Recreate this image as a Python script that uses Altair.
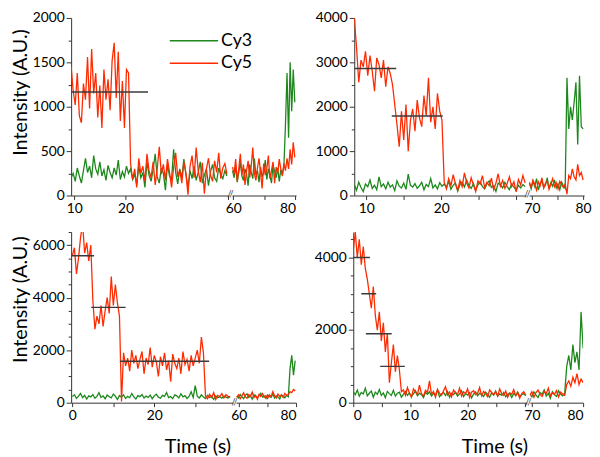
import altair as alt
import pandas as pd

FONT = "Lato"
GREEN = "#1c881c"
RED = "#ff2a00"
AXIS = "#333333"

# ---------------- data ----------------
# Panel 1 (top-left) -- left segment
p1a_start, p1a_step = 9.4, 0.4
p1a_cy3 = [200, 250, 160, 310, 220, 140, 280, 420, 260, 330, 200, 450, 300, 240, 380, 220, 290, 170, 340, 260,
           200, 310, 230, 400, 180, 270, 210, 330, 250,
           300, 180, 240, 120, 330, 200, 260, 90, 380, 230, 160, 290, 470, 210, 140, 310, 250, 60, 350, 220,
           180, 520, 260, 130, 300, 200, 410, 240, 90, 280, 190, 330, 170, 260, 380, 140, 230, 300, 110, 270,
           350, 200, 160, 310, 240, 190, 280, 220]
p1a_cy5 = [1450, 1180, 1020, 1380, 900, 820, 1260, 1080, 1560, 980, 1650, 1150, 1380, 880, 1240, 760, 1420, 1080,
           1310, 960, 1520, 1720, 1100, 1620, 840, 1290, 760, 1420, 1380,
           360, 180, 300, 90, 420, 250, 330, 160, 470, 280, 200, 380, 120, 300, 550, 240, 350, 170, 410, 260,
           90, 320, 480, 210, 290, 140, 380, 250, 10, 330, 450, 200, 540, 280, 150, 370, 20, 300, 420, 230,
           160, 390, 260, 480, 190, 310, 360, 240]
# Panel 1 -- right segment
p1b_start, p1b_step = 59.8, 0.5
p1b_cy3 = [280, 200, 330, 150, 260, 380, 220, 170, 300, 240, 110, 350, 260, 190, 420, 230, 280, 150, 320, 210,
           260, 400, 180, 300, 230, 140, 350, 270, 200, 310, 160, 290, 240, 330,
           800, 1380, 650, 1500, 950, 1420, 1050]
p1b_cy5 = [320, 240, 410, 160, 300, 470, 230, 350, 120, 280, 390, 200, 330, 540, 250, 170, 310, 420, 260, 80,
           360, 230, 300, 450, 190, 280, 380, 140, 320, 250, 410, 300, 220, 360, 280, 420, 300, 520, 350, 600, 430]
p1_lvl_from = [9.4]
p1_lvl_to = [24.4]
p1_lvl = [1165]

# Panel 2 (top-right)
p2a_start, p2a_step = 8.4, 0.3
p2a_cy3 = [250, 120, 300, 180, 90, 260, 200, 350, 160, 230, 130, 420, 200, 260, 150, 300, 190, 240, 110, 330,
           210, 170, 280, 140, 480, 230, 190, 270, 160, 220, 300, 130, 250, 200, 380, 170, 240, 150, 290, 210,
           260, 180, 320, 140, 230, 280, 100, 250, 300, 190, 350, 220, 160, 270, 120, 240, 310, 200, 150, 260,
           330, 180, 220, 90, 280, 240, 170, 300, 200, 130, 260, 190, 120, 230, 170, 250, 200]
p2a_cy5 = [4000, 3350, 2550, 3050, 2900, 3250, 2700, 3150, 2800, 2350, 3100, 2950, 2650, 3050, 2450, 2900, 2750,
           2500, 2050,
           1600, 1100, 1900, 1250, 2050, 1000, 1700, 1950, 1450, 2150, 1750, 1550, 2250, 1800, 2650, 1650, 2000,
           1500, 2300, 1900, 1700,
           300, 150, 380, 220, 470, 260, 120, 340, 200, 510, 280, 170, 400, 240, 90, 330, 260, 450, 180, 300,
           220, 390, 130, 280, 490, 210, 340, 160, 270, 420, 200, 310, 80, 360, 240, 450, 280]
p2b_start, p2b_step = 69.5, 0.35
p2b_cy3 = [280, 150, 320, 200, 380, 120, 260, 330, 180, 240, 400, 150, 290, 210, 350, 170, 260, 130, 300, 220, 160,
           2650, 1500, 2000, 1700, 2100, 2550, 1150, 2700, 1550, 1500]
p2b_cy5 = [300, 180, 350, 250, 120, 310, 220, 400, 170, 280, 330, 140, 260, 380, 200, 290, 150, 320, 240, 180, 260,
           30, 450, 380, 600, 420, 350, 700, 450, 520, 350]
p2_lvl_from = [8.4, 13.4]
p2_lvl_to = [14.0, 20.2]
p2_lvl = [2860, 1790]

# Panel 3 (bottom-left)
p3a_start, p3a_step = 0.0, 0.5
p3a_cy3 = [230, 300, 160, 250, 350, 190, 280, 140, 260, 220, 310, 170, 240, 380, 200, 260, 150, 290, 230, 180,
           330, 250, 120, 270, 210, 300, 160, 240, 190, 350, 220, 140, 270, 230, 310, 180, 250, 200, 290, 150,
           260, 320, 210, 170, 280, 240, 390, 190, 230, 150, 300, 260, 180, 340, 220, 270, 160, 240, 420, 200,
           650, 250, 180, 300, 220, 160, 280, 200, 240, 130, 260, 190, 230, 170, 250, 210, 180, 240]
p3a_cy5 = [5600, 5900, 4900, 5500, 6300, 6800, 5700, 6100, 5400, 6000,
           3900, 2800, 3300, 3000, 3700, 2900, 3500, 4000, 3400, 4800, 3700, 4500, 3800, 3300,
           50, 1900, 1400, 1700, 1200, 2000, 1500, 1800, 1300, 1650, 1950, 1100, 1700, 1450, 2100, 1350, 1800,
           1550, 1000, 1750, 1400, 1900, 1250, 1600, 800, 1850, 1500, 1300, 1700, 1100, 1950, 1450, 1650, 1200,
           1800, 1400, 1700, 2000, 1500, 2500, 1900,
           250, 150, 320, 200, 380, 120, 280, 230, 350, 180, 300, 240, 200]
p3b_start, p3b_step = 59.3, 0.6
p3b_cy3 = [250, 180, 310, 220, 150, 280, 340, 200, 260, 130, 300, 230, 190, 270, 360, 210, 250, 160, 290, 240,
           200, 330, 180, 260, 220, 140, 300, 250, 190, 280, 230,
           1300, 1800, 1050, 1600]
p3b_cy5 = [200, 300, 150, 260, 380, 220, 170, 310, 250, 400, 190, 280, 130, 320, 240, 350, 210, 270, 160, 300,
           230, 420, 260, 180, 330, 240, 290, 200, 350, 280, 310, 420, 380, 500, 450]
p3_lvl_from = [-0.3, 4.6, 11.6]
p3_lvl_to = [5.3, 13.0, 33.4]
p3_lvl = [5600, 3630, 1580]

# Panel 4 (bottom-right)
p4a_start, p4a_step = 0.0, 0.35
p4a_cy3 = [300, 220, 350, 180, 280, 240, 400, 190, 260, 320, 150, 290, 230, 360, 200, 270, 140, 310, 250, 200,
           340, 180, 260, 290, 150, 230, 310, 200, 270, 170, 240, 330, 190, 260, 220, 140, 280, 230, 300, 180,
           250, 210, 350, 160, 240, 280, 200, 310, 150, 260, 220, 290, 180, 240, 330, 170, 250, 210, 280, 130,
           240, 300, 190, 260, 220, 170, 290, 230, 150, 270, 210, 320, 180, 240, 200, 280, 160, 230, 260, 140,
           250, 200, 290, 170, 220, 250, 190]
p4a_cy5 = [4200, 4700, 4000, 4500, 3800, 4300, 3700, 3400, 3000, 2600, 3200, 2400, 2000, 2500, 1700, 2200, 1400,
           1900, 550, 1100, 1600, 850, 1300, 900, 300,
           350, 200, 420, 260, 150, 380, 300, 220, 480, 250, 180, 340, 280, 600, 230, 310, 150, 370, 260, 200,
           330, 440, 210, 290, 160, 350, 270, 230, 400, 180, 300, 250, 380, 140, 290, 330, 220, 260, 420, 190,
           310, 240, 160, 350, 280, 220, 300, 180, 380, 250, 200, 320, 150, 270, 230, 360, 190, 280, 120, 250,
           300, 210]
p4b_start, p4b_step = 69.6, 0.4
p4b_cy3 = [250, 160, 300, 210, 140, 280, 230, 350, 180, 260, 120, 300, 220, 170, 330, 240, 190, 260,
           1000, 1300, 900, 1600, 1100, 1400, 900, 2500, 1500]
p4b_cy5 = [200, 300, 150, 280, 350, 220, 170, 310, 250, 400, 190, 270, 230, 330, 160, 290, 240, 200,
           500, 600, 450, 700, 550, 800, 500, 650, 550]
p4_lvl_from = [0.0, 1.4, 2.2, 4.7]
p4_lvl_to = [2.9, 4.0, 6.7, 9.0]
p4_lvl = [4000, 3000, 1900, 1000]

# axis ticks / labels
p1_yticks = [0, 250, 500, 750, 1000, 1250, 1500, 1750, 2000]
p1_ylabels = [0, 500, 1000, 1500, 2000]
p2_yticks = [0, 500, 1000, 1500, 2000, 2500, 3000, 3500, 4000]
p2_ylabels = [0, 1000, 2000, 3000, 4000]
p3_yticks = [0, 500, 1000, 1500, 2000, 2500, 3000, 3500, 4000, 4500, 5000, 5500, 6000, 6500]
p3_ylabels = [0, 2000, 4000, 6000]
p4_yticks = [0, 500, 1000, 1500, 2000, 2500, 3000, 3500, 4000, 4500]
p4_ylabels = [0, 2000, 4000]

p1a_xticks, p1a_xlabels = [10, 20, 30, 40], [10, 20]
p1b_xticks, p1b_xlabels = [60, 70, 80], [60, 80]
p2a_xticks, p2a_xlabels = [10, 15, 20, 25, 30], [10, 20]
p2b_xticks, p2b_xlabels = [70, 75, 80], [70, 80]
p3a_xticks, p3a_xlabels = [0, 10, 20, 30], [0, 20]
p3b_xticks, p3b_xlabels = [60, 70, 80], [60, 80]
p4a_xticks, p4a_xlabels = [0, 5, 10, 15, 20, 25, 30], [0, 10, 20]
p4b_xticks, p4b_xlabels = [70, 75, 80], [70, 80]


# ---------------- helpers ----------------
def traces(start, step, cy3, cy5):
    rows = []
    for dye, vals in (("Cy3", cy3), ("Cy5", cy5)):
        for i, v in enumerate(vals):
            rows.append({"t": round(start + i * step, 4), "v": v, "dye": dye})
    return pd.DataFrame(rows)


def levels(t0, t1, lv):
    return pd.DataFrame({"t0": t0, "t1": t1, "lvl": lv})


color = alt.Color(
    "dye:N",
    scale=alt.Scale(domain=["Cy3", "Cy5"], range=[GREEN, RED]),
    legend=alt.Legend(
        title=None, orient="none", legendX=116, legendY=12,
        symbolType="M-2.7,0H2.2", symbolSize=400, symbolStrokeWidth=1.5,
        labelFont=FONT, labelFontSize=18, labelColor="#000",
        rowPadding=3, labelOffset=14, padding=0,
    ),
)


def x_axis(ticks, labels, title=None, title_x=None):
    kw = dict(
        values=ticks,
        labelExpr=f"indexof({labels}, datum.value) >= 0 ? datum.label : ''",
        format="d", grid=False, tickSize=4, labelPadding=2,
    )
    if title:
        kw.update(title=title, titleX=title_x, titleY=44, titleBaseline="middle", titleAlign="center")
    else:
        kw["title"] = None
    return alt.Axis(**kw)


def y_axis(ticks, labels, title=None, title_y=None):
    cond = f"indexof({labels}, datum.value) >= 0"
    kw = dict(
        values=ticks,
        labelExpr=f"{cond} ? datum.label : ''",
        format="d", grid=False,
        tickSize={"condition": {"test": cond, "value": 5}, "value": 3},
        labelPadding=2,
    )
    if title:
        kw.update(title=title, titlePadding=2, titleY=title_y)
    else:
        kw["title"] = None
    return alt.Axis(**kw)


def segment(df, xdom, w, h, ydom, xax, yax, lv=None, brk=False):
    xs = alt.Scale(domain=xdom, nice=False, zero=False)
    ys = alt.Scale(domain=ydom, nice=False, zero=False)
    line = alt.Chart(df).mark_line(strokeWidth=1.3, clip=True).encode(
        x=alt.X("t:Q", scale=xs, axis=xax),
        y=alt.Y("v:Q", scale=ys, axis=yax),
        color=color,
    )
    layers = [line]
    if lv is not None:
        layers.append(
            alt.Chart(lv).mark_rule(color="#3a3a3a", strokeWidth=1.5, clip=True).encode(
                x=alt.X("t0:Q", scale=xs, axis=xax),
                x2="t1:Q",
                y=alt.Y("lvl:Q", scale=ys, axis=yax),
            )
        )
    if brk:
        layers.append(
            alt.Chart(pd.DataFrame({"s": ["//"]})).mark_text(
                font=FONT, fontSize=9, color=AXIS, baseline="middle", align="center"
            ).encode(text="s:N", x=alt.value(-1.5), y=alt.value(h - 1))
        )
    return alt.layer(*layers).properties(width=w, height=h)


def spacer(w, h):
    return alt.Chart(pd.DataFrame({"z": [0]})).mark_point(opacity=0).encode(
        x=alt.value(0), y=alt.value(0)
    ).properties(width=w, height=h)


H1, H2 = 180, 173
YT = "Intensity (A.U.)"

p1a = segment(traces(p1a_start, p1a_step, p1a_cy3, p1a_cy5), [9.4, 40.2], 160, H1, [0, 2000],
              x_axis(p1a_xticks, p1a_xlabels), y_axis(p1_yticks, p1_ylabels, YT, 75),
              levels(p1_lvl_from, p1_lvl_to, p1_lvl))
p1b = segment(traces(p1b_start, p1b_step, p1b_cy3, p1b_cy5), [59.6, 80.2], 65, H1, [0, 2000],
              x_axis(p1b_xticks, p1b_xlabels), None, brk=True)
p2a = segment(traces(p2a_start, p2a_step, p2a_cy3, p2a_cy5), [8.4, 31.3], 174, H1, [0, 4000],
              x_axis(p2a_xticks, p2a_xlabels), y_axis(p2_yticks, p2_ylabels),
              levels(p2_lvl_from, p2_lvl_to, p2_lvl))
p2b = segment(traces(p2b_start, p2b_step, p2b_cy3, p2b_cy5), [69.4, 80.2], 56, H1, [0, 4000],
              x_axis(p2b_xticks, p2b_xlabels), None, brk=True)

p3a = segment(traces(p3a_start, p3a_step, p3a_cy3, p3a_cy5), [-0.3, 39.2], 164, H2, [0, 6500],
              x_axis(p3a_xticks, p3a_xlabels, "Time (s)", 128), y_axis(p3_yticks, p3_ylabels, YT, 68),
              levels(p3_lvl_from, p3_lvl_to, p3_lvl))
p3b = segment(traces(p3b_start, p3b_step, p3b_cy3, p3b_cy5), [59.0, 80.0], 61, H2, [0, 6500],
              x_axis(p3b_xticks, p3b_xlabels), None, brk=True)
p4a = segment(traces(p4a_start, p4a_step, p4a_cy3, p4a_cy5), [0.0, 30.3], 176, H2, [0, 4700],
              x_axis(p4a_xticks, p4a_xlabels, "Time (s)", 143), y_axis(p4_yticks, p4_ylabels),
              levels(p4_lvl_from, p4_lvl_to, p4_lvl))
p4b = segment(traces(p4b_start, p4b_step, p4b_cy3, p4b_cy5), [69.6, 80.0], 54, H2, [0, 4700],
              x_axis(p4b_xticks, p4b_xlabels), None, brk=True)

row1 = alt.hconcat(p1a, p1b, spacer(53, H1), p2a, p2b, spacing=3, bounds="flush")
row2 = alt.hconcat(p3a, p3b, spacer(52, H2), p4a, p4b, spacing=3, bounds="flush")

chart = (
    alt.vconcat(row1, row2, spacing=14)
    .properties(padding={"left": 2, "top": 0, "right": 0, "bottom": 0})
    .configure_view(strokeWidth=0)
    .configure_axis(
        labelFont=FONT, labelFontSize=14, labelColor="#000",
        titleFont=FONT, titleFontSize=20, titleFontWeight="normal", titleColor="#000",
        domainColor=AXIS, tickColor=AXIS, domainWidth=1, tickWidth=1,
    )
)

chart.save("out.html", embed_options={"renderer": "svg", "actions": False})
